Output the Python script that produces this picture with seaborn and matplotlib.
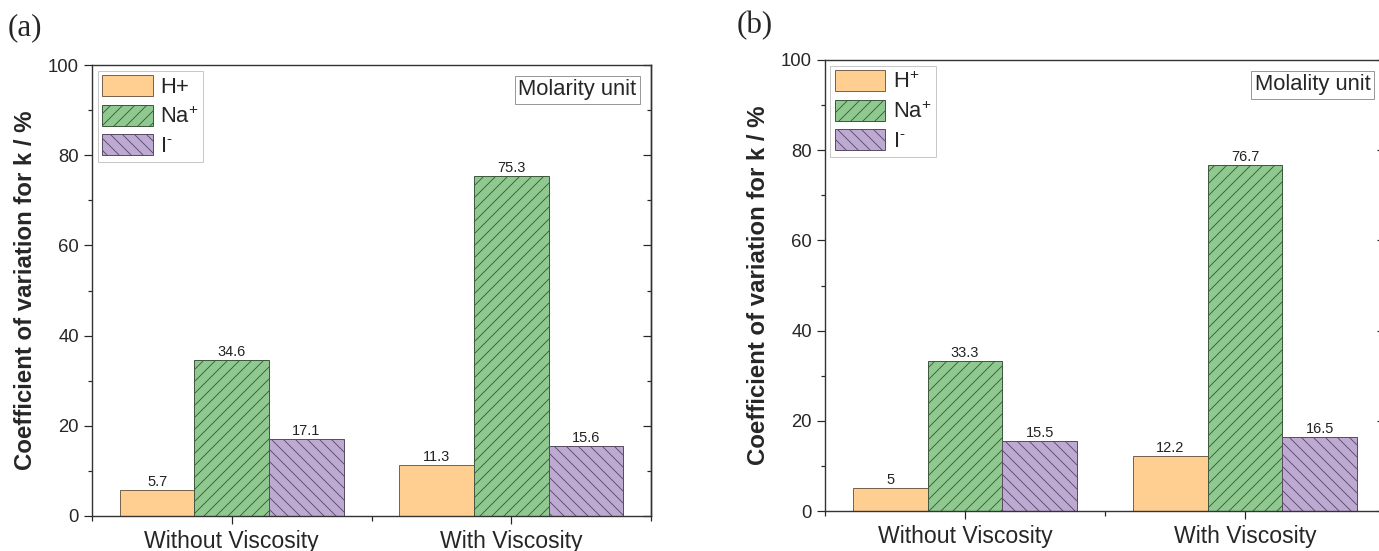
import numpy as np
import pandas as pd
import matplotlib
matplotlib.use("Agg")
import matplotlib.pyplot as plt
import matplotlib.patches as mpatches
from matplotlib.ticker import FixedLocator, MultipleLocator
import seaborn as sns

# data
conditions = ["Without Viscosity", "With Viscosity"]
ions = ["H+", "Na+", "I-"]
molarity_h = [5.7, 11.3]
molarity_na = [34.6, 75.3]
molarity_i = [17.1, 15.6]
molality_h = [5, 12.2]
molality_na = [33.3, 76.7]
molality_i = [15.5, 16.5]

legend_labels_a = ["H+", "Na$^{+}$", "I$^{\u2010}$"]
legend_labels_b = ["H$^{+}$", "Na$^{+}$", "I$^{\u2010}$"]

fills = ["#FFCE91", "#8FC98F", "#BDA9D2"]
edges = ["#7a6450", "#3f5a3f", "#5a4e66"]
hatches = ["", "//", "\\\\"]

sns.set_style("white")
plt.rcParams["font.family"] = ["Liberation Sans", "DejaVu Sans"]
plt.rcParams["mathtext.default"] = "regular"
plt.rcParams["hatch.linewidth"] = 0.9


def make_df(h, na, i):
    rows = []
    for ion, vals in zip(ions, [h, na, i]):
        for cond, v in zip(conditions, vals):
            rows.append({"condition": cond, "ion": ion, "value": v})
    return pd.DataFrame(rows)


def draw_panel(ax, df, legend_labels, unit_text):
    sns.barplot(data=df, x="condition", y="value", hue="ion",
                order=conditions, hue_order=ions,
                palette=dict(zip(ions, fills)), width=0.8, saturation=1,
                gap=0, legend=False, ax=ax, errorbar=None)

    for k, cont in enumerate(ax.containers):
        for bar in cont:
            bar.set_edgecolor(edges[k])
            bar.set_linewidth(1.0)
            bar.set_hatch(hatches[k])
        ax.bar_label(cont, fmt="{:g}", padding=1, fontsize=14.5, color="#222222")

    ax.set_xlim(-0.5, 1.5)
    ax.set_ylim(0, 100)
    ax.set_xlabel("")
    ax.set_ylabel("Coefficient of variation for k / %", fontsize=24,
                  fontweight="bold", labelpad=11)
    ax.yaxis.set_major_locator(MultipleLocator(20))
    ax.yaxis.set_minor_locator(MultipleLocator(10))
    ax.xaxis.set_minor_locator(FixedLocator([-0.5, 0.5, 1.5]))

    ax.tick_params(axis="y", which="major", direction="out", length=8,
                   width=1.2, labelsize=18.5, pad=5, left=True)
    ax.tick_params(axis="y", which="minor", direction="out", length=4,
                   width=1.2, left=True)
    ax.tick_params(axis="x", which="major", direction="out", length=8,
                   width=1.2, labelsize=23, pad=6, bottom=True)
    ax.tick_params(axis="x", which="minor", direction="out", length=5,
                   width=1.2, bottom=True)

    # mirrored right axis with inward ticks
    sec = ax.secondary_yaxis("right")
    sec.yaxis.set_major_locator(MultipleLocator(20))
    sec.yaxis.set_minor_locator(MultipleLocator(10))
    sec.tick_params(which="major", direction="in", length=8, width=1.2,
                    labelright=False)
    sec.tick_params(which="minor", direction="in", length=4, width=1.2)
    sec.spines["right"].set_color("#333333")
    sec.spines["right"].set_linewidth(1.4)

    for s in ax.spines.values():
        s.set_visible(True)
        s.set_color("#333333")
        s.set_linewidth(1.4)

    handles = [mpatches.Patch(facecolor=fills[k], edgecolor=edges[k],
                              hatch=hatches[k], linewidth=1.0)
               for k in range(3)]
    leg = ax.legend(handles, legend_labels, loc="upper left", fontsize=22,
                    frameon=True, fancybox=False, borderaxespad=0.25,
                    borderpad=0.2, handlelength=2.3, handleheight=1.1,
                    labelspacing=0.3, handletextpad=0.35)
    leg.get_frame().set_edgecolor("#bbbbbb")
    leg.get_frame().set_linewidth(1.0)

    ax.text(0.974, 0.968, unit_text, transform=ax.transAxes, ha="right",
            va="top", fontsize=22,
            bbox=dict(boxstyle="square,pad=0.15", facecolor="white",
                      edgecolor="#999999", linewidth=1.0))


fig = plt.figure(figsize=(1379 / 72, 551 / 72), dpi=72)
W, H = 1379, 551
ax_a = fig.add_axes([92 / W, 1 - 516 / H, 559 / W, 451 / H])
ax_b = fig.add_axes([825 / W, 1 - 511 / H, 560 / W, 451 / H])

draw_panel(ax_a, make_df(molarity_h, molarity_na, molarity_i),
           legend_labels_a, "Molarity unit")
draw_panel(ax_b, make_df(molality_h, molality_na, molality_i),
           legend_labels_b, "Molality unit")

fig.text(8 / W, 1 - 28 / H, "(a)", fontsize=31, family="Liberation Serif",
         ha="left", va="center")
fig.text(737 / W, 1 - 26 / H, "(b)", fontsize=31, family="Liberation Serif",
         ha="left", va="center")

fig.savefig("out.png", dpi=72)
